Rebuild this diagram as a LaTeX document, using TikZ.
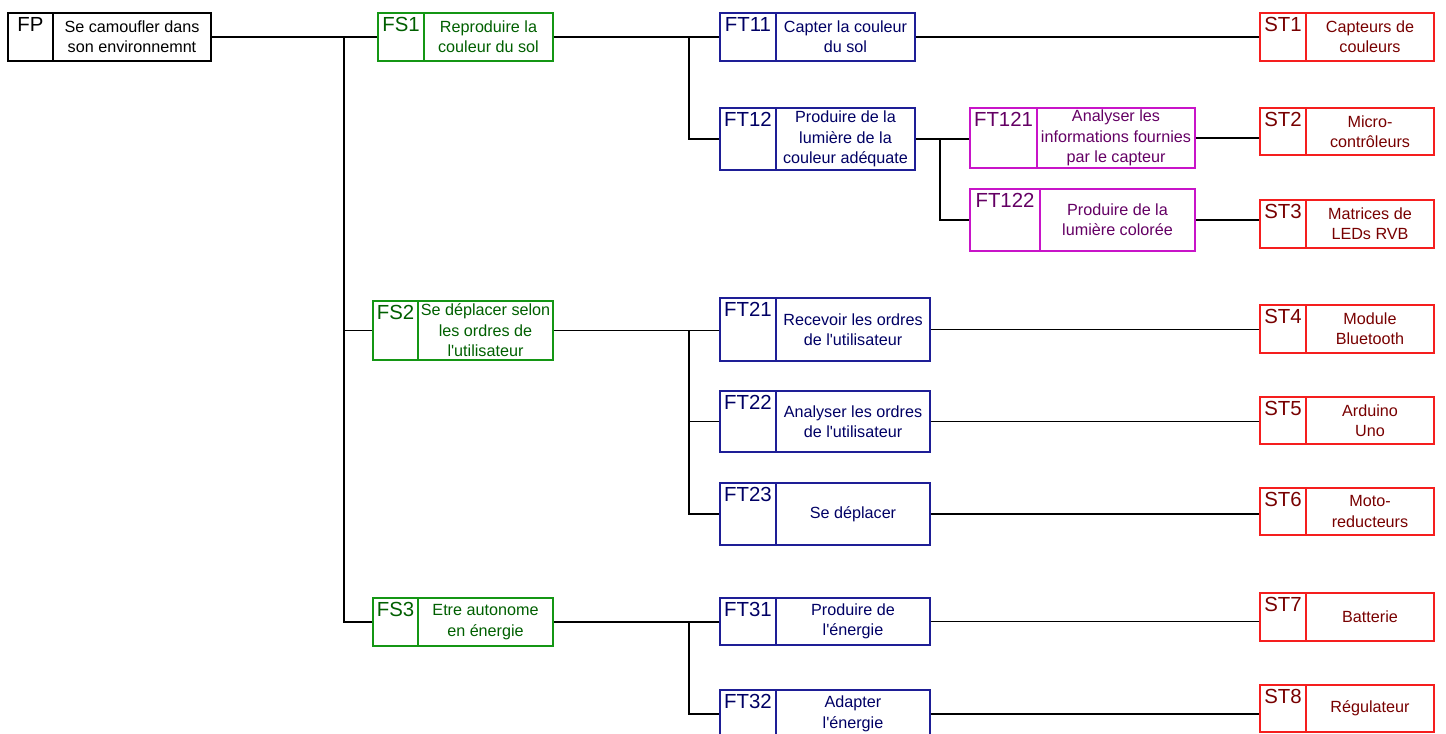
\documentclass[tikz,border=0pt]{standalone}
\usepackage{fontspec}
\setmainfont{Liberation Sans}
\usetikzlibrary{calc}

\definecolor{fsdraw}{RGB}{20,150,20}
\definecolor{fstext}{RGB}{0,95,0}
\definecolor{ftdraw}{RGB}{30,30,150}
\definecolor{fttext}{RGB}{0,0,100}
\definecolor{ftxdraw}{RGB}{200,20,200}
\definecolor{ftxtext}{RGB}{100,0,100}
\definecolor{stdraw}{RGB}{245,30,30}
\definecolor{sttext}{RGB}{120,0,0}

\tikzset{
  cadre/.style={draw,rectangle,line width=1.1pt,inner sep=0pt},
  idtxt/.style={inner sep=2.5pt,font=\fontsize{14.5}{16}\selectfont},
  desc/.style={align=center,inner sep=0pt,font=\fontsize{11.5}{14.5}\selectfont},
  fp/.style={draw=black,text=black},
  fs/.style={draw=fsdraw,text=fstext},
  ft/.style={draw=ftdraw,text=fttext},
  ftx/.style={draw=ftxdraw,text=ftxtext},
  st/.style={draw=stdraw,text=sttext},
}

% #1 style, #2 name, #3 left, #4 top, #5 right, #6 bottom, #7 divider, #8 text
\newcommand{\fbloc}[8]{%
  \node[cadre,#1,minimum width={(#5-#3)*0.025cm},minimum height={(#6-#4)*0.025cm}] (#2) at ({(#3+#5)/2},{(#4+#6)/2}) {};
  \draw[line width=1.1pt,#1] (#7,#4) -- (#7,#6);
  \node[idtxt,#1,draw=none,anchor=north] (#2-id) at ({(#3+#7)/2},#4) {#2};
  \node[desc,#1,draw=none] (#2-txt) at ({(#7+#5)/2},{(#4+#6)/2}) {#8};
}
\newcommand{\apos}{\textquotesingle}

\begin{document}
\begin{tikzpicture}[x=0.025cm,y=-0.025cm,line width=1.1pt]
\useasboundingbox (0,0) rectangle (1446,734);
\clip (0,0) rectangle (1446,734);

% fonction principale et fonctions de service
\fbloc{fp}{FP}{8}{13}{211}{61}{53}{Se camoufler dans\\son environnemnt}
\fbloc{fs}{FS1}{378}{13}{553}{61}{424}{Reproduire la\\couleur du sol}
\fbloc{fs}{FS2}{373}{301}{553}{360}{418}{Se d\'eplacer selon\\les ordres de\\l\apos utilisateur}
\fbloc{fs}{FS3}{373}{598}{553}{646}{418}{Etre autonome\\en \'energie}

% fonctions techniques
\fbloc{ft}{FT11}{720}{13}{915}{61}{776}{Capter la couleur\\du sol}
\fbloc{ft}{FT12}{720}{108}{915}{170}{776}{Produire de la\\lumi\`ere de la\\couleur ad\'equate}
\fbloc{ftx}{FT121}{970}{108}{1195}{168}{1037}{Analyser les\\informations fournies\\par le capteur}
\fbloc{ftx}{FT122}{970}{189}{1195}{251}{1040}{Produire de la\\lumi\`ere color\'ee}
\fbloc{ft}{FT21}{720}{298}{930}{361}{776}{Recevoir les ordres\\de l\apos utilisateur}
\fbloc{ft}{FT22}{720}{391}{930}{452}{776}{Analyser les ordres\\de l\apos utilisateur}
\fbloc{ft}{FT23}{720}{483}{930}{545}{776}{Se d\'eplacer}
\fbloc{ft}{FT31}{720}{598}{930}{645}{776}{Produire de\\l\apos\'energie}
\fbloc{ft}{FT32}{720}{690}{930}{738}{776}{Adapter\\l\apos\'energie}

% solutions techniques
\fbloc{st}{ST1}{1260}{13}{1434}{61}{1306}{Capteurs de\\couleurs}
\fbloc{st}{ST2}{1260}{108}{1434}{155}{1306}{Micro-\\contr\^oleurs}
\fbloc{st}{ST3}{1260}{200}{1434}{248}{1306}{Matrices de\\LEDs RVB}
\fbloc{st}{ST4}{1260}{305}{1434}{353}{1306}{Module\\Bluetooth}
\fbloc{st}{ST5}{1260}{397}{1434}{444}{1306}{Arduino\\Uno}
\fbloc{st}{ST6}{1260}{488}{1434}{535}{1306}{Moto-\\reducteurs}
\fbloc{st}{ST7}{1260}{593}{1434}{641}{1306}{Batterie}
\fbloc{st}{ST8}{1260}{685}{1434}{732}{1306}{R\'egulateur}

% liaisons
\coordinate (tronc) at (344,0);
\coordinate (b1) at (689,0);
\coordinate (b12) at (940,0);

\draw (FP.east) -- (FP.east -| FS1.west);
\draw (FP.east -| tronc) |- (FS2.west);
\draw (FP.east -| tronc) |- (FS3.west);

\draw (FS1.east) -- (FS1.east -| FT11.west);
\draw (FS1.east -| b1) |- (FT12.west);
\draw (FT12.east) -- (FT12.east -| FT121.west);
\draw (FT12.east -| b12) |- (FT122.west);

\draw (FS2.east) -- (FS2.east -| FT21.west);
\draw (FS2.east -| b1) |- (FT22.west);
\draw (FS2.east -| b1) |- (FT23.west);

\draw (FS3.east) -- (FS3.east -| FT31.west);
\draw (FS3.east -| b1) |- (FT32.west);

\foreach \a/\b in {FT11/ST1,FT121/ST2,FT122/ST3,FT21/ST4,FT22/ST5,FT23/ST6,FT31/ST7,FT32/ST8}
  \draw (\a.east) -- (\a.east -| \b.west);
\end{tikzpicture}
\end{document}
